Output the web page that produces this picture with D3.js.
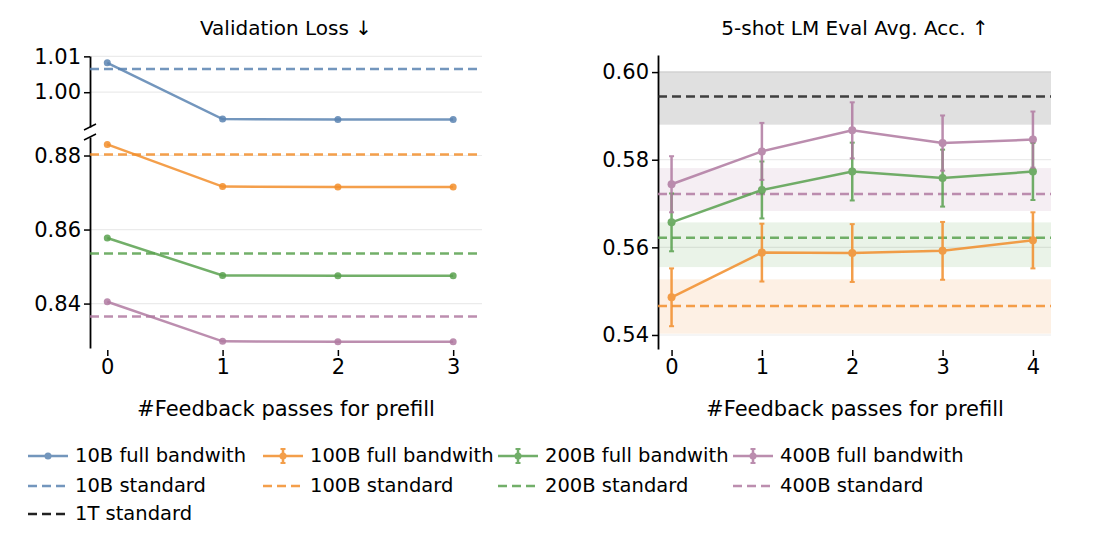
<!DOCTYPE html>
<html><head><meta charset="utf-8">
<script src="https://cdn.jsdelivr.net/npm/d3@7"></script>
<style>body{margin:0;background:#fff}svg{font-family:"DejaVu Sans",sans-serif}</style>
</head><body><svg width="1110" height="553"></svg>
<script>
const svg = d3.select('svg');

// Data
const passesLoss = [0, 1, 2, 3];
const passesAcc = [0, 1, 2, 3, 4];
const sizes = ['10B', '100B', '200B', '400B'];
const colors = ['#5b84b1', '#f28e2b', '#59a14f', '#b07aa1'];
const lossFull = [
  [1.0082, 0.9925, 0.9924, 0.9924],
  [0.8830, 0.8716, 0.8715, 0.8715],
  [0.8577, 0.8476, 0.8475, 0.8475],
  [0.8405, 0.8298, 0.8297, 0.8297]
];
const lossStd = [1.0065, 0.8803, 0.8535, 0.8365];
const accFull = {
  '100B': [0.5486, 0.5588, 0.5587, 0.5592, 0.5616],
  '200B': [0.5657, 0.5731, 0.5773, 0.5758, 0.5773],
  '400B': [0.5744, 0.5819, 0.5867, 0.5838, 0.5846]
};
const accErr = {
  '100B': [0.0066, 0.0066, 0.0066, 0.0066, 0.0064],
  '200B': [0.0066, 0.0065, 0.0066, 0.0065, 0.0065],
  '400B': [0.0064, 0.0065, 0.0064, 0.0063, 0.0064]
};
const accStd = { '100B': [0.5466, 0.5403, 0.5527], '200B': [0.5622, 0.5555, 0.5657], '400B': [0.5722, 0.5683, 0.5781], '1T': [0.5944, 0.5880, 0.6002] };
const lossTicksTop = [1.00, 1.01];
const lossTicksBot = [0.84, 0.86, 0.88];
const accTicks = [0.54, 0.56, 0.58, 0.60];

const cOf = s => s === '1T' ? '#222' : colors[sizes.indexOf(s)];
const grid = '#ebebeb';
const FS = 21;

// ---- Left panel
const xL = d3.scaleLinear().domain([-0.15, 3.25]).range([90, 482]);
const yTop = d3.scaleLinear().domain([0.9903, 1.0101]).range([127, 56]);
const yBot = d3.scaleLinear().domain([0.8280, 0.8850]).range([348, 137]);
const gL = svg.append('g');

function gridLines(g, ticks, y, x0, x1) {
  g.selectAll(null).data(ticks).enter().append('line')
    .attr('x1', x0).attr('x2', x1).attr('y1', d => y(d)).attr('y2', d => y(d))
    .attr('stroke', grid).attr('stroke-width', 1.2);
}
gridLines(gL, lossTicksTop, yTop, 90, 482);
gridLines(gL, lossTicksBot, yBot, 90, 482);

gL.append('g').attr('transform', 'translate(90,0)')
  .call(d3.axisLeft(yTop).tickValues(lossTicksTop).tickFormat(d3.format('.2f')).tickSize(6).tickSizeOuter(0));
gL.append('g').attr('transform', 'translate(90,0)')
  .call(d3.axisLeft(yBot).tickValues(lossTicksBot).tickFormat(d3.format('.2f')).tickSize(6).tickSizeOuter(0));
gL.selectAll('.domain').attr('stroke-width', 1.8);
[127, 137].forEach(y => gL.append('line').attr('x1', 84).attr('x2', 96).attr('y1', y + 3).attr('y2', y - 3)
  .attr('stroke', '#000').attr('stroke-width', 1.5));
gL.append('g').attr('transform', 'translate(0,350)')
  .call(d3.axisBottom(xL).tickValues(passesLoss).tickFormat(d3.format('d')).tickSize(6))
  .call(g => g.select('.domain').remove());

lossStd.forEach((v, i) => {
  const y = i === 0 ? yTop : yBot;
  gL.append('line').attr('x1', 90).attr('x2', 482).attr('y1', y(v)).attr('y2', y(v))
    .attr('stroke', colors[i]).attr('stroke-opacity', 0.85).attr('stroke-width', 2.5).attr('stroke-dasharray', '9,5');
});
lossFull.forEach((vals, i) => {
  const y = i === 0 ? yTop : yBot;
  const pts = vals.map((v, j) => [xL(passesLoss[j]), y(v)]);
  gL.append('path').attr('d', d3.line()(pts)).attr('fill', 'none')
    .attr('stroke', colors[i]).attr('stroke-opacity', 0.85).attr('stroke-width', 2.5);
  gL.selectAll(null).data(pts).enter().append('circle').attr('cx', d => d[0]).attr('cy', d => d[1]).attr('r', 3.5)
    .attr('fill', colors[i]).attr('fill-opacity', 0.85);
});
gL.append('text').attr('x', 286).attr('y', 35).attr('text-anchor', 'middle').attr('font-size', FS - 1).text('Validation Loss  ↓');
gL.append('text').attr('x', 286).attr('y', 416).attr('text-anchor', 'middle').attr('font-size', FS).text('#Feedback passes for prefill');

// ---- Right panel
const xR = d3.scaleLinear().domain([-0.15, 4.2]).range([658, 1051]);
const yR = d3.scaleLinear().domain([0.5368, 0.6039]).range([349, 55]);
const gR = svg.append('g');
gridLines(gR, accTicks, yR, 658, 1051);
['1T', '400B', '200B', '100B'].forEach(s => {
  const [m, lo, hi] = accStd[s];
  gR.append('rect').attr('x', 658).attr('width', 393).attr('y', yR(hi)).attr('height', yR(lo) - yR(hi))
    .attr('fill', s === '1T' ? '#999' : cOf(s)).attr('fill-opacity', s === '1T' ? 0.3 : 0.13);
});
gR.append('g').attr('transform', 'translate(658,0)')
  .call(d3.axisLeft(yR).tickValues(accTicks).tickFormat(d3.format('.2f')).tickSize(6).tickSizeOuter(0))
  .call(g => g.select('.domain').attr('stroke-width', 1.8));
gR.append('g').attr('transform', 'translate(0,350)')
  .call(d3.axisBottom(xR).tickValues(passesAcc).tickFormat(d3.format('d')).tickSize(6))
  .call(g => g.select('.domain').remove());
['1T', '400B', '200B', '100B'].forEach(s => {
  const y = yR(accStd[s][0]);
  gR.append('line').attr('x1', 658).attr('x2', 1051).attr('y1', y).attr('y2', y)
    .attr('stroke', cOf(s)).attr('stroke-opacity', 0.85).attr('stroke-width', 2.5).attr('stroke-dasharray', '9,5');
});
['100B', '200B', '400B'].forEach(s => {
  const c = cOf(s);
  const pts = accFull[s].map((v, j) => [xR(passesAcc[j]), yR(v), accErr[s][j]]);
  const g = gR.append('g').attr('opacity', 0.85);
  pts.forEach(([x, y, e], j) => {
    const v = accFull[s][j];
    g.append('line').attr('x1', x).attr('x2', x).attr('y1', yR(v - e)).attr('y2', yR(v + e)).attr('stroke', c).attr('stroke-width', 2.5);
    [v - e, v + e].forEach(w => g.append('line').attr('x1', x - 2.5).attr('x2', x + 2.5).attr('y1', yR(w)).attr('y2', yR(w)).attr('stroke', c).attr('stroke-width', 2));
  });
  g.append('path').attr('d', d3.line()(pts.map(p => [p[0], p[1]]))).attr('fill', 'none').attr('stroke', c).attr('stroke-width', 2.5);
  g.selectAll(null).data(pts).enter().append('circle').attr('cx', d => d[0]).attr('cy', d => d[1]).attr('r', 4).attr('fill', c);
});
gR.append('text').attr('x', 855).attr('y', 35).attr('text-anchor', 'middle').attr('font-size', FS - 1).text('5-shot LM Eval Avg. Acc. ↑');
gR.append('text').attr('x', 855).attr('y', 416).attr('text-anchor', 'middle').attr('font-size', FS).text('#Feedback passes for prefill');

svg.selectAll('.tick text').attr('font-size', FS).attr('fill', '#000').attr('font-family', '"DejaVu Sans",sans-serif');
svg.selectAll('.tick line').attr('stroke-width', 1.5);

// ---- Legend
const legend = svg.append('g').attr('font-size', 19.5);
const colX = [28, 263, 498, 733];
sizes.forEach((s, i) => {
  const x = colX[i], c = colors[i];
  const g1 = legend.append('g').attr('transform', `translate(${x},456)`).attr('opacity', 0.85);
  g1.append('line').attr('x1', 0).attr('x2', 40).attr('stroke', c).attr('stroke-width', 2.5);
  g1.append('circle').attr('cx', 20).attr('r', 3.5).attr('fill', c);
  if (i > 0) {
    g1.append('line').attr('x1', 20).attr('x2', 20).attr('y1', -7).attr('y2', 7).attr('stroke', c).attr('stroke-width', 2.5);
    [-7, 7].forEach(y => g1.append('line').attr('x1', 17.5).attr('x2', 22.5).attr('y1', y).attr('y2', y).attr('stroke', c).attr('stroke-width', 2));
  }
  legend.append('text').attr('x', x + 47).attr('y', 462).text(s + ' full bandwith');
  legend.append('line').attr('x1', x).attr('x2', x + 40).attr('y1', 486).attr('y2', 486)
    .attr('stroke', c).attr('stroke-opacity', 0.85).attr('stroke-width', 2.5).attr('stroke-dasharray', '9,5');
  legend.append('text').attr('x', x + 47).attr('y', 492).text(s + ' standard');
});
legend.append('line').attr('x1', 28).attr('x2', 68).attr('y1', 514).attr('y2', 514)
  .attr('stroke', '#222').attr('stroke-width', 2.5).attr('stroke-dasharray', '9,5');
legend.append('text').attr('x', 75).attr('y', 520).text('1T standard');
</script></body></html>
